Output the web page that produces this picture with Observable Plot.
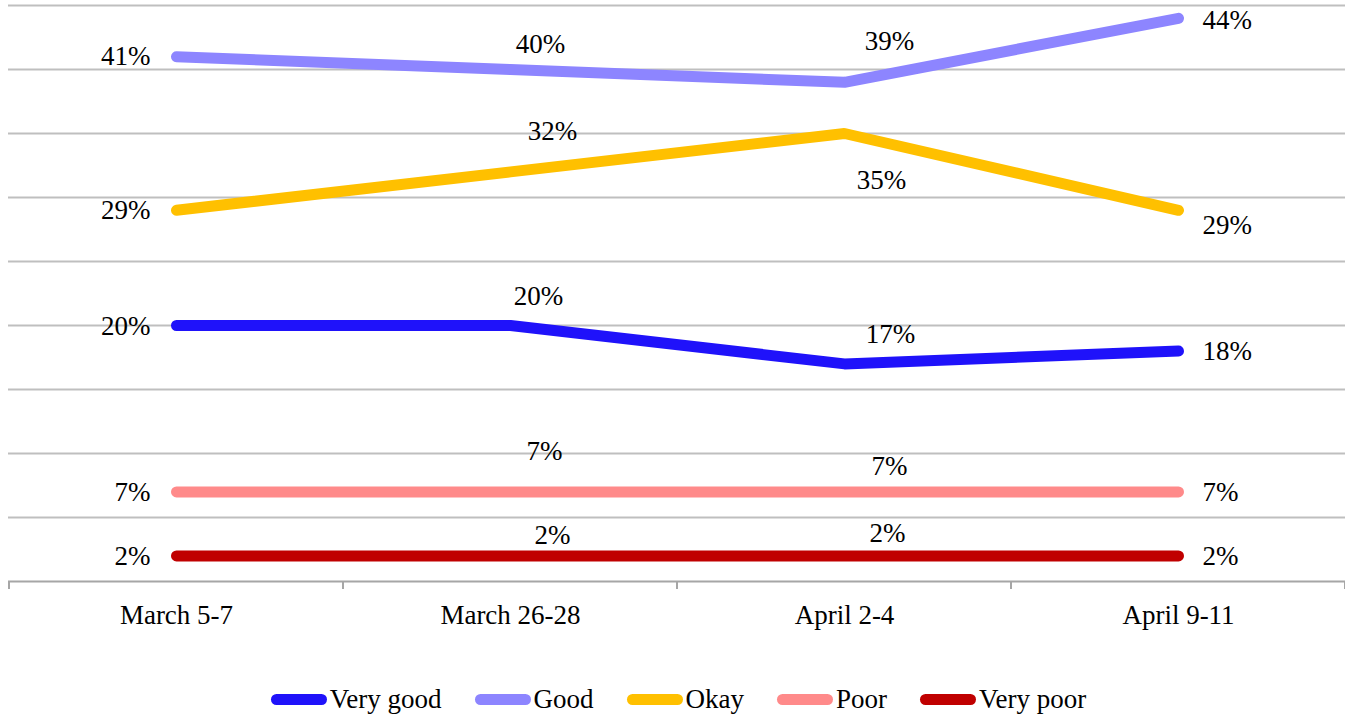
<!DOCTYPE html>
<html>
<head>
<meta charset="utf-8">
<script src="https://cdn.jsdelivr.net/npm/d3@7"></script>
<script src="https://cdn.jsdelivr.net/npm/@observablehq/plot@0.6"></script>
<style>
  html, body { margin: 0; padding: 0; background: #fff; }
  body { width: 1345px; font-family: "Liberation Serif", serif; }
  #legend { display: flex; justify-content: center; align-items: center; margin-top: 43px; height: 32px; font-size: 27px; color: #000; padding-left: 12px; }
  .item { display: flex; align-items: center; margin-right: 33px; }
  .item:last-child { margin-right: 0; }
  .sw { width: 56px; height: 11px; border-radius: 6px; margin-right: 3px; }
</style>
</head>
<body>
<div id="chart"></div>
<div id="legend"></div>
<script>
// ---- data ----
const dates = ["March 5-7", "March 26-28", "April 2-4", "April 9-11"];
const seriesNames = ["Very good", "Good", "Okay", "Poor", "Very poor"];
const veryGood = [20, 20, 17, 18];
const good = [41, 40, 39, 44];
const okay = [29, 32, 35, 29];
const poor = [7, 7, 7, 7];
const veryPoor = [2, 2, 2, 2];
const colors = ["#1F12FA", "#8D85FF", "#FFC000", "#FF8A8A", "#C00000"];
const gridTicks = [5, 10, 15, 20, 25, 30, 35, 40, 45];

// label placement (pixel offsets relative to the point)
const labelOffsets = {
  "Very good": [[-26, 1], [28, -29], [46, -30], [24, 0]],
  "Good":      [[-26, 0], [30, -25], [45, -41], [24, 2]],
  "Okay":      [[-26, 0], [42, -41], [37, 47], [24, 15]],
  "Poor":      [[-26, 0], [34, -41], [45, -26], [24, 0]],
  "Very poor": [[-26, 0], [42, -21], [43, -23], [24, 0]]
};

const seriesValues = [veryGood, good, okay, poor, veryPoor];
const rows = [];
seriesNames.forEach((s, si) => {
  dates.forEach((d, i) => rows.push({series: s, date: d, value: seriesValues[si][i], idx: i}));
});

const W = 1345, H = 640, mL = 8, mR = 0, mT = 5, mB = 59;

// boundary tick marks between categories
function bandTicks(index, scales, values, dimensions) {
  const x = scales.x, y = scales.y;
  const step = x(dates[1]) - x(dates[0]);
  const g = d3.create("svg:g");
  const y0 = y(0);
  const xs = dates.map(d => x(d) - step / 2).concat([x(dates[dates.length - 1]) + step / 2]);
  xs.forEach(xx => {
    g.append("line")
      .attr("x1", xx).attr("x2", xx)
      .attr("y1", y0).attr("y2", y0 + 8)
      .attr("stroke", "#a6a6a6").attr("stroke-width", 2);
  });
  return g.node();
}

const labelMarks = rows.map(r => {
  const [dx, dy] = labelOffsets[r.series][r.idx];
  const anchor = r.idx === 0 ? "end" : (r.idx === dates.length - 1 ? "start" : "middle");
  return Plot.text([r], {x: "date", y: "value", text: d => d.value + "%", dx, dy, textAnchor: anchor, fill: "#000", fontSize: 27});
});

const chart = Plot.plot({
  width: W, height: H,
  marginLeft: mL, marginRight: mR, marginTop: mT, marginBottom: mB,
  style: {fontFamily: "Liberation Serif, serif", fontSize: "27px", background: "#fff", overflow: "visible"},
  x: {type: "point", domain: dates, padding: 0.5, label: null},
  y: {domain: [0, 45], axis: null},
  color: {domain: seriesNames, range: colors},
  marks: [
    Plot.ruleY(gridTicks, {stroke: "#bfbfbf", strokeWidth: 2}),
    Plot.ruleY([0], {stroke: "#a6a6a6", strokeWidth: 2}),
    bandTicks,
    Plot.axisX({tickSize: 0, tickPadding: 23, fontSize: 27, fill: "#000", label: null}),
    Plot.line(rows, {x: "date", y: "value", z: "series", stroke: "series", strokeWidth: 11, strokeLinecap: "round", strokeLinejoin: "miter"}),
    ...labelMarks
  ]
});
document.getElementById("chart").appendChild(chart);

const legend = document.getElementById("legend");
seriesNames.forEach((s, i) => {
  const it = document.createElement("div");
  it.className = "item";
  const sw = document.createElement("div");
  sw.className = "sw";
  sw.style.background = colors[i];
  const t = document.createElement("span");
  t.textContent = s;
  it.appendChild(sw); it.appendChild(t);
  legend.appendChild(it);
});
</script>
</body>
</html>
